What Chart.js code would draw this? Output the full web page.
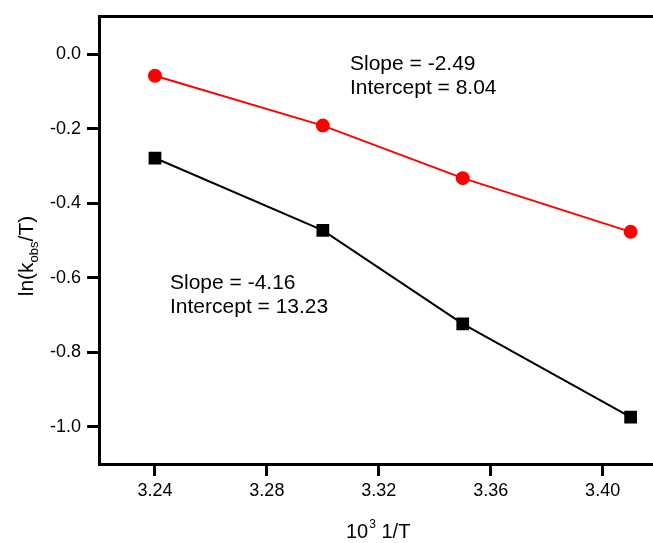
<!DOCTYPE html>
<html>
<head>
<meta charset="utf-8">
<script src="https://cdn.jsdelivr.net/npm/chart.js@4.4.1/dist/chart.umd.min.js"></script>
<style>
  html, body { margin: 0; padding: 0; background: #fff; overflow: hidden; }
</style>
</head>
<body>
<canvas id="arrh" width="653" height="543"></canvas>
<script>
// values
const invTemp = [3.24, 3.30, 3.35, 3.41]
const lnRed = [-0.058, -0.192, -0.333, -0.477]
const lnBlack = [-0.279, -0.473, -0.724, -0.974]
const xTicks = [3.24, 3.28, 3.32, 3.36, 3.40]
const yTicks = [0.0, -0.2, -0.4, -0.6, -0.8, -1.0]
const redNote = ['Slope = -2.49', 'Intercept = 8.04']
const blackNote = ['Slope = -4.16', 'Intercept = 13.23']

const FONT = "'Liberation Sans', Arial, sans-serif"

// titles and fit notes, with sub/superscripts
const textPlugin = {
  id: 'texts',
  afterDraw (chart) {
    const ctx = chart.ctx
    ctx.save()
    ctx.fillStyle = '#000'
    ctx.textBaseline = 'alphabetic'
    ctx.textAlign = 'left'

    ctx.font = `21px ${FONT}`
    redNote.forEach((t, i) => ctx.fillText(t, 350, 70 + i * 23.5))
    blackNote.forEach((t, i) => ctx.fillText(t, 170, 289 + i * 24))

    // x title: 10^3 1/T
    ctx.font = `20px ${FONT}`
    let x = 346
    ctx.fillText('10', x, 538)
    x += ctx.measureText('10').width + 1
    ctx.font = `12px ${FONT}`
    ctx.fillText('3', x, 528)
    x += ctx.measureText('3').width
    ctx.font = `20px ${FONT}`
    ctx.fillText(' 1/T', x, 538)

    // y title: ln(k_obs/T)
    ctx.translate(33, 256)
    ctx.rotate(-Math.PI / 2)
    const parts = [['ln(k', 21, 0], ['obs', 13, 5], ['/T)', 21, 0]]
    let w = 0
    parts.forEach(p => { ctx.font = `${p[1]}px ${FONT}`; w += ctx.measureText(p[0]).width })
    let px = -w / 2
    parts.forEach(p => {
      ctx.font = `${p[1]}px ${FONT}`
      ctx.fillText(p[0], px, p[2])
      px += ctx.measureText(p[0]).width
    })
    ctx.restore()
  }
}

const ctx = document.getElementById('arrh')

new Chart(ctx, {
  type: 'scatter',
  data: {
    datasets: [
      {
        data: invTemp.map((x, i) => ({ x, y: lnBlack[i] })),
        showLine: true,
        borderColor: '#000',
        backgroundColor: '#000',
        borderWidth: 2,
        pointStyle: 'rect',
        pointRadius: 9,
        pointBorderWidth: 0
      },
      {
        data: invTemp.map((x, i) => ({ x, y: lnRed[i] })),
        showLine: true,
        borderColor: '#ff0000',
        backgroundColor: '#ff0000',
        borderWidth: 2,
        pointStyle: 'circle',
        pointRadius: 7,
        pointBorderWidth: 0
      }
    ]
  },
  options: {
    responsive: false,
    animation: false,
    layout: { padding: 0, autoPadding: false },
    plugins: { legend: { display: false }, tooltip: { enabled: false } },
    scales: {
      x: {
        type: 'linear',
        position: 'bottom',
        min: 3.22,
        max: 3.418, // the frame runs off the right edge of the picture
        afterFit: s => { s.height = 79 },
        afterBuildTicks: s => { s.ticks = xTicks.map(v => ({ value: v })) },
        border: { color: '#000', width: 3 },
        grid: { drawOnChartArea: false, color: '#000', lineWidth: 3, tickColor: '#000', tickLength: 12, tickWidth: 3 },
        ticks: { color: '#000', font: { family: FONT, size: 18 }, padding: 4, maxRotation: 0, callback: v => v.toFixed(2) }
      },
      xTop: {
        type: 'linear',
        position: 'top',
        min: 3.22,
        max: 3.418,
        afterFit: s => { s.height = 15 },
        border: { color: '#000', width: 3 },
        grid: { display: false },
        ticks: { display: false }
      },
      y: {
        type: 'linear',
        min: -1.1,
        max: 0.1,
        afterFit: s => { s.width = 99 },
        afterBuildTicks: s => { s.ticks = yTicks.map(v => ({ value: v })) },
        border: { color: '#000', width: 3 },
        grid: { drawOnChartArea: false, color: '#000', lineWidth: 3, tickColor: '#000', tickLength: 12, tickWidth: 3 },
        ticks: { color: '#000', font: { family: FONT, size: 18 }, padding: 6, callback: v => v.toFixed(1) }
      }
    }
  },
  plugins: [textPlugin]
})
</script>
</body>
</html>
